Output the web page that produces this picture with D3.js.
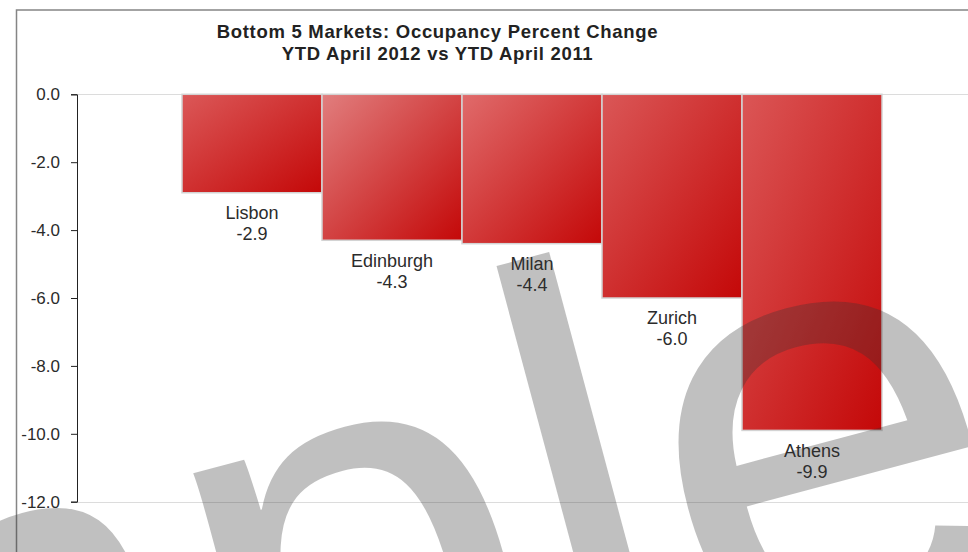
<!DOCTYPE html>
<html>
<head>
<meta charset="utf-8">
<script src="https://cdn.jsdelivr.net/npm/d3@7"></script>
<style>
  body { margin: 0; background: #fff; }
  svg { display: block; font-family: Arial, "Liberation Sans", sans-serif; }
</style>
</head>
<body>
<div id="chart"></div>
<script>
// data
var markets = ["Lisbon", "Edinburgh", "Milan", "Zurich", "Athens"];
var changes = [-2.9, -4.3, -4.4, -6.0, -9.9];
var yTicks = [0, -2, -4, -6, -8, -10, -12];
var titleLines = ["Bottom 5 Markets: Occupancy Percent Change", "YTD April 2012 vs YTD April 2011"];

// light end of each bar's gradient
var lightColors = ["#db5858", "#e17e7e", "#e06b6b", "#da5757", "#db5656"];

var data = markets.map(function (m, i) { return { market: m, value: changes[i] }; });

var width = 968,
    height = 552;

var svg = d3.select("#chart")
    .append("svg")
    .attr("width", width)
    .attr("height", height);

// outer frame (continues past the right and bottom edge)
svg.append("rect")
    .attr("x", 16.5)
    .attr("y", 10)
    .attr("width", 1000)
    .attr("height", 600)
    .attr("fill", "none")
    .attr("stroke", "#858585")
    .attr("stroke-width", 1.5);

var x = d3.scaleBand()
    .domain(markets)
    .range([77, 987])
    .paddingInner(0)
    .paddingOuter(0.75);

var y = d3.scaleLinear()
    .domain([-12, 0])
    .range([501.7, 94.3]);

var defs = svg.append("defs");
data.forEach(function (d, i) {
    var g = defs.append("linearGradient")
        .attr("id", "grad" + i)
        .attr("x1", 0).attr("y1", 0)
        .attr("x2", 1).attr("y2", 1);
    g.append("stop").attr("offset", "0%").attr("stop-color", lightColors[i]);
    g.append("stop").attr("offset", "100%").attr("stop-color", "#c40808");
});

// title
svg.append("g")
    .selectAll("text")
    .data(titleLines)
    .enter().append("text")
    .attr("x", 437.5)
    .attr("y", function (d, i) { return 38.3 + i * 21.5; })
    .attr("text-anchor", "middle")
    .style("font-size", "18.5px")
    .style("font-weight", "bold")
    .style("letter-spacing", "0.7px")
    .attr("fill", "#222")
    .text(function (d) { return d; });

// top and bottom plot lines
svg.append("g")
    .selectAll("line")
    .data([0, -12])
    .enter().append("line")
    .attr("x1", 77)
    .attr("x2", width)
    .attr("y1", function (d) { return Math.round(y(d)) + 0.5; })
    .attr("y2", function (d) { return Math.round(y(d)) + 0.5; })
    .attr("stroke", "#dcdcdc")
    .attr("stroke-width", 1);

// bars
var bars = svg.append("g")
    .selectAll("g")
    .data(data)
    .enter().append("g");

bars.append("rect")
    .attr("x", function (d) { return x(d.market); })
    .attr("y", y(0))
    .attr("width", x.bandwidth())
    .attr("height", function (d) { return y(d.value) - y(0); })
    .attr("fill", function (d, i) { return "url(#grad" + i + ")"; })
    .attr("stroke", "#d3d3d3")
    .attr("stroke-width", 1.5);

bars.append("text")
    .attr("x", function (d) { return x(d.market) + x.bandwidth() / 2; })
    .attr("y", function (d) { return y(d.value) + 26.4; })
    .attr("text-anchor", "middle")
    .style("font-size", "18px")
    .attr("fill", "#2b2b2b")
    .text(function (d) { return d.market; });

bars.append("text")
    .attr("x", function (d) { return x(d.market) + x.bandwidth() / 2; })
    .attr("y", function (d) { return y(d.value) + 47.4; })
    .attr("text-anchor", "middle")
    .style("font-size", "18px")
    .attr("fill", "#2b2b2b")
    .text(function (d) { return d.value.toFixed(1); });

// y axis
var yAxis = d3.axisLeft(y)
    .tickValues(yTicks)
    .tickSize(6)
    .tickPadding(11)
    .tickFormat(function (d) { return d.toFixed(1); });

var axisG = svg.append("g")
    .attr("transform", "translate(77,0)")
    .call(yAxis);

axisG.select(".domain").attr("stroke", "#222");
axisG.selectAll(".tick line").attr("stroke", "#222");
axisG.selectAll(".tick text")
    .style("font-size", "17px")
    .style("font-family", "Arial, 'Liberation Sans', sans-serif")
    .attr("fill", "#2b2b2b");

// watermark
svg.append("text")
    .attr("transform", "translate(-992,1130) rotate(-15)")
    .style("font-size", "620px")
    .attr("fill", "#333")
    .attr("fill-opacity", 0.31)
    .text("Sample");
</script>
</body>
</html>
